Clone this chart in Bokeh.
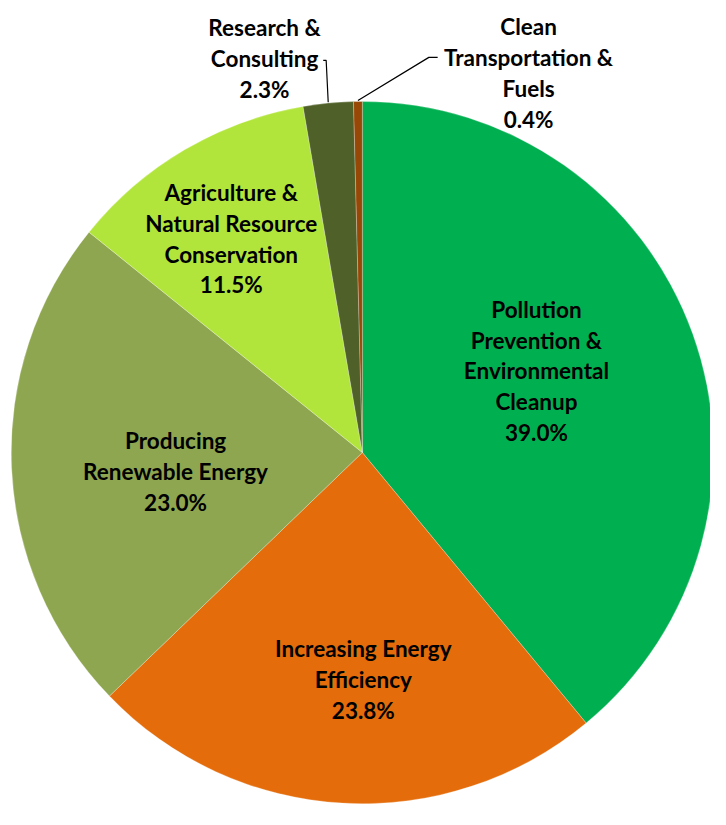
import numpy as np
from bokeh.plotting import figure
from bokeh.models import Range1d, ColumnDataSource
from bokeh.core.properties import value
from bokeh.embed import file_html
from bokeh.resources import INLINE

# ---------------- data ----------------
categories = [
    "Pollution Prevention & Environmental Cleanup",
    "Increasing Energy Efficiency",
    "Producing Renewable Energy",
    "Agriculture & Natural Resource Conservation",
    "Research & Consulting",
    "Clean Transportation & Fuels",
]
shares = [39.0, 23.8, 23.0, 11.5, 2.3, 0.4]
label_lines = [
    ["Pollution", "Prevention &", "Environmental", "Cleanup"],
    ["Increasing Energy", "Efficiency"],
    ["Producing", "Renewable Energy"],
    ["Agriculture &", "Natural Resource", "Conservation"],
    ["Research &", "Consulting"],
    ["Clean", "Transportation &", "Fuels"],
]
colors = ["#00B050", "#E46C0A", "#8EA64F", "#B2E53B", "#4F6128", "#974806"]

# ---------------- layout (reference pixel coordinates, scaled into figure) ----------------
W, H = 710, 809
REF_W, REF_H = 726, 825
def Y(iy):
    return REF_H - iy

CX, CY, R = 370, Y(461), 359
label_x = [548, 371, 179, 236, 270, 540]
label_first_baseline = [315, 661, 449, 196, 28, 27]
line_step = 31.3
leader_elbows = {4: [(333, 61), (330, 61)], 5: [(438, 58), (447, 58)]}

FONT = "Lato"
FSIZE = "22.5px"

p = figure(width=W, height=H, output_backend="svg", toolbar_location=None,
           x_range=Range1d(0, REF_W), y_range=Range1d(0, REF_H),
           min_border=0)
p.axis.visible = False
p.grid.visible = False
p.outline_line_color = None
p.background_fill_color = "white"
p.border_fill_color = "white"

frac = np.array(shares) / sum(shares)
cum = np.concatenate([[0], np.cumsum(frac)])
start = np.pi / 2 - 2 * np.pi * cum[:-1]
end = np.pi / 2 - 2 * np.pi * cum[1:]

src = ColumnDataSource(dict(start=start, end=end, color=colors, cat=categories))
p.wedge(x=CX, y=CY, radius=R, start_angle="start", end_angle="end",
        direction="clock", fill_color="color", line_color="white",
        line_width=0.5, line_alpha=0.5, source=src)

# leader lines
for i, pts in leader_elbows.items():
    mid = (start[i] + end[i]) / 2
    xs = [CX + R * np.cos(mid)] + [a for a, b in pts]
    ys = [CY + R * np.sin(mid)] + [Y(b) for a, b in pts]
    p.line(xs, ys, line_color="black", line_width=1.2)

# labels
tx, ty, tt = [], [], []
for i, lines in enumerate(label_lines):
    allines = lines + [f"{shares[i]:.1f}%"]
    for k, t in enumerate(allines):
        tx.append(label_x[i])
        ty.append(Y(label_first_baseline[i] + k * line_step))
        tt.append(t)
p.text(x=tx, y=ty, text=tt, text_font=value(FONT), text_font_size=FSIZE,
       text_font_style="bold", text_align="center", text_baseline="alphabetic",
       text_color="black")

open("out.html", "w").write(file_html(p, INLINE))
